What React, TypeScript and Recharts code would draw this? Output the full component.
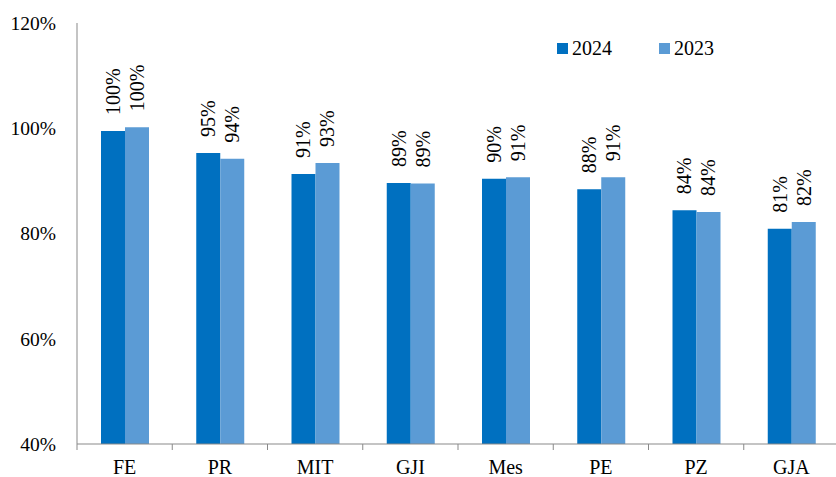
import React from "react"
import { BarChart, Bar, XAxis, YAxis, LabelList } from "recharts"

const categories = ["FE", "PR", "MIT", "GJI", "Mes", "PE", "PZ", "GJA"]
const values2024 = [99.5, 95.3, 91.3, 89.6, 90.4, 88.4, 84.4, 80.9]
const values2023 = [100.2, 94.2, 93.4, 89.5, 90.7, 90.7, 84.1, 82.2]
const labels2024 = ["100%", "95%", "91%", "89%", "90%", "88%", "84%", "81%"]
const labels2023 = ["100%", "94%", "93%", "89%", "91%", "91%", "84%", "82%"]
const yTicks = [40, 60, 80, 100, 120]

const seriesNames = ["2024", "2023"]
const colors = ["#0070C0", "#5B9BD5"]

const FONT = '"Liberation Serif", "Times New Roman", serif'
const AXIS_COLOR = "#898989"
const PLOT_BOTTOM = 444

const data = categories.map((name, i) => ({
  name,
  v2024: values2024[i],
  v2023: values2023[i],
  l2024: labels2024[i],
  l2023: labels2023[i],
}))

const VerticalLabel = (props: any) => {
  const { x, y, width, value } = props
  const cx = x + width / 2
  const ty = y - 16
  return (
    <text
      x={cx}
      y={ty}
      transform={`rotate(-90 ${cx} ${ty})`}
      textAnchor="start"
      dominantBaseline="central"
      style={{ fontFamily: FONT, fontSize: 20 }}
      fill="#000"
    >
      {value}
    </text>
  )
}

const XTick = (props: any) => {
  const { x, payload } = props
  const half = payload && payload.offset ? payload.offset : 47.6
  return (
    <g>
      <line x1={x - half} x2={x - half} y1={PLOT_BOTTOM} y2={PLOT_BOTTOM + 6} stroke={AXIS_COLOR} />
      <text x={x} y={PLOT_BOTTOM + 30} textAnchor="middle" style={{ fontFamily: FONT, fontSize: 20 }} fill="#000">
        {payload.value}
      </text>
    </g>
  )
}

const YTick = (props: any) => {
  const { x, y, payload } = props
  return (
    <text x={x} y={y} dy="0.35em" textAnchor="end" style={{ fontFamily: FONT, fontSize: 19.5 }} fill="#000">
      {`${payload.value}%`}
    </text>
  )
}

export default function App() {
  return (
    <div style={{ position: "absolute", left: 0, top: 0, width: 836, height: 477, background: "#fff" }}>
      <BarChart
        width={836}
        height={477}
        data={data}
        margin={{ top: 23, right: -3, left: 0, bottom: 0 }}
        barGap={0}
        barSize={24}
      >
        <XAxis
          dataKey="name"
          height={33}
          axisLine={{ stroke: AXIS_COLOR }}
          tickLine={false}
          tick={<XTick />}
          interval={0}
        />
        <YAxis
          width={77}
          domain={[40, 120]}
          ticks={yTicks}
          allowDataOverflow
          axisLine={{ stroke: AXIS_COLOR }}
          tickLine={false}
          tickSize={0}
          tickMargin={21}
          tick={<YTick />}
        />
        <Bar dataKey="v2024" name={seriesNames[0]} fill={colors[0]} isAnimationActive={false}>
          <LabelList dataKey="l2024" content={<VerticalLabel />} />
        </Bar>
        <Bar dataKey="v2023" name={seriesNames[1]} fill={colors[1]} isAnimationActive={false}>
          <LabelList dataKey="l2023" content={<VerticalLabel />} />
        </Bar>
      </BarChart>
      <div
        style={{
          position: "absolute",
          left: 557,
          top: 36,
          display: "flex",
          fontFamily: FONT,
          fontSize: 20,
          color: "#000",
          lineHeight: "24px",
        }}
      >
        {seriesNames.map((s, i) => (
          <div key={s} style={{ display: "flex", alignItems: "center", marginRight: i === 0 ? 47 : 0 }}>
            <span style={{ display: "inline-block", width: 11, height: 11, background: colors[i], marginRight: 4 }} />
            <span>{s}</span>
          </div>
        ))}
      </div>
    </div>
  )
}
